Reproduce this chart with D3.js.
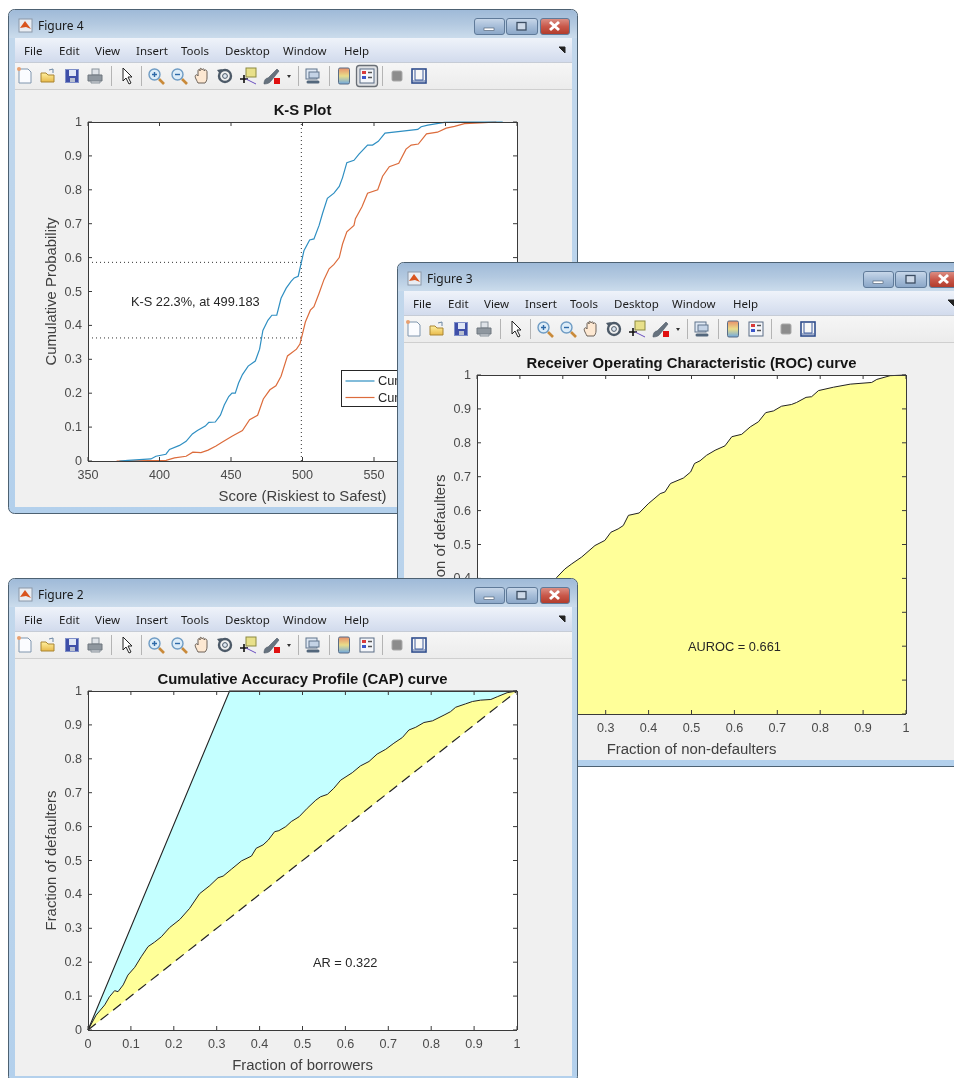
<!DOCTYPE html>
<html>
<head>
<meta charset="utf-8">
<script src="https://cdn.jsdelivr.net/npm/d3@7"></script>
<style>
html,body{margin:0;background:#fff;overflow:hidden}
svg{display:block;filter:blur(.4px)}
text{font-family:"Liberation Sans",Arial,sans-serif}
.chrome text{font-family:"Noto Sans","Open Sans",sans-serif}
</style>
</head>
<body>
<div id="chart"></div>
<script>
// values
const unitTicks=[0,.1,.2,.3,.4,.5,.6,.7,.8,.9,1];
const scoreTicks=[350,400,450,500,550,600,650];
const menuNames=["File","Edit","View","Insert","Tools","Desktop","Window","Help"];

const ksCut=499.183, ksHigh=.586, ksLow=.363;

const badsScore=[372,378,394,397.5,404.5,407,414,418.6,423,426.5,432,434.5,439,442.6,445.3,448.4,450.7,453,455.3,458,462,467,470,472.3,475.8,478.6,482,485,488.6,492,494.2,497,499.2,501,505,508,511.6,514,517.4,522,525.7,528,531,536,539.5,545.5,549,553,557.7,570,580.6,583,587.6,599.3,610,640];
const badsCum=[0,.002,.006,.014,.02,.034,.046,.058,.08,.09,.103,.114,.115,.135,.165,.19,.2,.2,.23,.255,.28,.295,.33,.385,.415,.43,.43,.48,.51,.53,.54,.545,.586,.62,.652,.655,.695,.73,.775,.79,.81,.836,.88,.887,.905,.932,.932,.943,.967,.973,.978,.986,.991,.999,1,1];

const goodsScore=[370,404.6,410.5,418.6,423.3,429,434,439.5,444,451,458,463,468.6,472.6,477.2,481.4,485,489.5,495.8,498.2,500,502,505.5,508,511.6,515,518.6,522,525.7,528,531,536,537,541.6,545.5,552.6,556,560.7,567.3,572.4,576,581,586.7,594.4,600.5,606.3,613.3,627.3,635.5];
const goodsCum=[0,.002,.009,.014,.026,.025,.032,.044,.056,.074,.09,.122,.135,.183,.21,.222,.25,.31,.33,.345,.375,.41,.445,.455,.495,.535,.567,.58,.6,.64,.676,.695,.715,.75,.79,.8,.84,.868,.878,.92,.932,.935,.965,.97,.982,.987,.995,.998,1];

// the part of the ROC curve under Figure 2 cannot be read, only its start at the origin
const rocX=[0,.186,.205,.221,.244,.275,.298,.312,.329,.341,.353,.378,.399,.427,.438,.451,.481,.498,.507,.52,.535,.555,.578,.594,.617,.637,.656,.673,.691,.71,.733,.745,.767,.78,.796,.831,.87,.92,.932,.963,1];
const rocY=[0,.403,.428,.443,.463,.497,.512,.536,.546,.556,.586,.593,.62,.65,.655,.68,.696,.714,.739,.747,.763,.778,.791,.818,.825,.847,.862,.889,.894,.908,.913,.919,.934,.936,.954,.964,.973,.978,.987,.998,1];

const capX=[0,.019,.039,.05,.062,.07,.082,.093,.109,.124,.14,.155,.171,.19,.214,.237,.26,.284,.303,.315,.334,.358,.381,.392,.408,.42,.435,.445,.461,.474,.492,.511,.531,.542,.558,.573,.589,.616,.635,.655,.674,.694,.713,.733,.748,.764,.783,.803,.83,.845,.857,.88,.896,.915,.939,.954,.977,1];
const capY=[0,.044,.074,.098,.116,.113,.133,.162,.185,.216,.246,.259,.275,.302,.326,.359,.402,.426,.449,.454,.474,.499,.513,.536,.546,.56,.585,.588,.6,.615,.629,.654,.678,.688,.695,.713,.737,.759,.779,.792,.814,.828,.846,.863,.885,.893,.907,.912,.929,.939,.952,.962,.969,.973,.975,.983,.995,1];

const idealX=[0,.33,1];
const idealY=[0,1,1];
const diagonal=[0,1];

const W=954,H=1078;
const svg=d3.select("#chart").append("svg").attr("width",W).attr("height",H);
const defs=svg.append("defs");

function grad(id,stops,horizontal){
  const g=defs.append("linearGradient").attr("id",id)
    .attr("x1",0).attr("y1",0).attr("x2",horizontal?1:0).attr("y2",horizontal?0:1);
  stops.forEach((c,i)=>g.append("stop").attr("offset",i/(stops.length-1)).attr("stop-color",c));
}
grad("titlebar",["#9fbad8","#b3c9e0","#cbdcec"]);
grad("frame",["#c3d8ec","#b3d0ec"]);
grad("menubar",["#eff3fa","#d2dbed"]);
grad("toolbar",["#f6f6f6","#ececec"]);
grad("btn",["#c9d8ea","#a6bdd8","#8aa6c7"]);
grad("closeBtn",["#dc9187","#c9584a","#b03a2a"]);
grad("folder",["#fff0a0","#e8b94a"]);
grad("colorbar",["#e88f6a","#e9dd8a","#6fa8e0"]);

// toolbar glyphs, centred on (0,0)
const icons={
  doc(g){
    g.append("path").attr("d","M-6,-7H3L6,-4V7H-6Z").attr("fill","#fbfcff").attr("stroke","#7f95ad");
    g.append("circle").attr("cx",-6).attr("cy",-7).attr("r",2).attr("fill","#e8a070");
  },
  open(g){
    g.append("path").attr("d","M-7,-3H-2L0,-1H6V6H-7Z").attr("fill","url(#folder)").attr("stroke","#a98532");
    g.append("path").attr("d","M1,-6L5,-7V-3").attr("fill","none").attr("stroke","#6b86a3");
  },
  save(g){
    g.append("rect").attr("x",-6.5).attr("y",-6.5).attr("width",13).attr("height",13).attr("fill","#3f4fa8").attr("stroke","#7f8fc8");
    g.append("rect").attr("x",-3).attr("y",-6).attr("width",7).attr("height",6).attr("fill","#dfe6f6");
    g.append("rect").attr("x",-2).attr("y",2).attr("width",5).attr("height",4).attr("fill","#b9c0d0");
  },
  print(g){
    g.append("rect").attr("x",-3).attr("y",-7).attr("width",7).attr("height",6).attr("fill","#dfe3e8").attr("stroke","#8a939c");
    g.append("path").attr("d","M-7,-1H7V5H-7Z").attr("fill","#8f979f").attr("stroke","#6e767e");
    g.append("path").attr("d","M-4,5H5V7H-4Z").attr("fill","#d6d9dd").attr("stroke","#8a939c");
  },
  arrow(g){
    g.append("path").attr("d","M-4,-8V5L-1,2L2,8L4,7L1,1H5Z").attr("fill","#fff").attr("stroke","#222");
  },
  zoomIn(g){magnifier(g,true)},
  zoomOut(g){magnifier(g,false)},
  hand(g){
    g.append("path").attr("d","M-4,7C-6,3-8,0-6,-1C-5,-2-4,0-4,0V-5C-4,-7-2,-7-2,-5V-7C-2,-8 0,-8 0,-6V-6C1,-8 3,-7 2,-5C3,-7 5,-6 5,-4V2C5,4 4,6 3,7Z")
      .attr("fill","#fde8d2").attr("stroke","#5b5148").attr("stroke-width",.9);
  },
  rotate(g){
    g.append("circle").attr("r",6).attr("fill","none").attr("stroke","#4d5a68").attr("stroke-width",2.4);
    g.append("circle").attr("r",2.4).attr("fill","#dfe8f2").attr("stroke","#4d5a68");
    g.append("path").attr("d","M-8,-6L-3,-7L-5,-2Z").attr("fill","#4d5a68");
  },
  cursor(g){
    g.append("rect").attr("x",-2).attr("y",-8).attr("width",10).attr("height",9).attr("fill","#e8e08a").attr("stroke","#8c8a40");
    g.append("path").attr("d","M-8,3H0M-4,-1V7").attr("stroke","#111").attr("stroke-width",1.6);
    g.append("path").attr("d","M-2,3L8,8").attr("stroke","#6a4fc0");
  },
  brush(g){
    g.append("path").attr("d","M-8,8C-8,4-6,2-4,2L5,-7L7,-5L-1,5C-2,7-5,8-8,8Z").attr("fill","#66727e").attr("stroke","#4d5966").attr("stroke-width",.6);
    g.append("rect").attr("x",2).attr("y",2).attr("width",6).attr("height",6).attr("fill","#e01010");
  },
  drop(g){
    g.append("path").attr("d","M-2,-1H2L0,2Z").attr("fill","#333");
  },
  link(g){
    g.append("rect").attr("x",-6).attr("y",-7).attr("width",11).attr("height",10).attr("fill","#dfe8f4").attr("stroke","#60758c");
    g.append("rect").attr("x",-3).attr("y",-4).attr("width",10).attr("height",6).attr("fill","#c4d3e6").attr("stroke","#60758c");
    g.append("path").attr("d","M-4,6H6").attr("stroke","#53677c").attr("stroke-width",3).attr("stroke-linecap","round");
  },
  colorbar(g){
    g.append("rect").attr("x",-5.5).attr("y",-8).attr("width",11).attr("height",16).attr("rx",1.5).attr("fill","url(#colorbar)").attr("stroke","#5a6d85");
  },
  legend(g){
    g.append("rect").attr("x",-7).attr("y",-7).attr("width",14).attr("height",14).attr("fill","#f4f6fa").attr("stroke","#5a6d85");
    g.append("rect").attr("x",-5).attr("y",-5).attr("width",4).attr("height",3).attr("fill","#d83a3a");
    g.append("rect").attr("x",-5).attr("y",0).attr("width",4).attr("height",3).attr("fill","#3a55c8");
    g.append("path").attr("d","M1,-3.5H5M1,1.5H5").attr("stroke","#555").attr("stroke-width",1.4);
  },
  square(g){
    g.append("rect").attr("x",-5).attr("y",-5).attr("width",10).attr("height",10).attr("rx",1.5).attr("fill","#8c8c8c").attr("stroke","#aaa");
  },
  panel(g){
    g.append("rect").attr("x",-7).attr("y",-7).attr("width",14).attr("height",14).attr("fill","#f7f7f7").attr("stroke","#2f4d8c").attr("stroke-width",1.6);
    g.append("path").attr("d","M-4,-6V4H4V-6M-6,5H6").attr("fill","none").attr("stroke","#3f5d9c");
  }
};
function magnifier(g,plus){
  g.append("path").attr("d","M3,3L8,8").attr("stroke","#c98a3a").attr("stroke-width",2.6);
  g.append("circle").attr("cx",-1.5).attr("cy",-1.5).attr("r",5.5).attr("fill","#dcecf8").attr("stroke","#6f9cc4").attr("stroke-width",1.4);
  g.append("path").attr("d",plus?"M-4,-1.5H1M-1.5,-4V1":"M-4,-1.5H1").attr("stroke","#2e6aa8").attr("stroke-width",1.4);
}
const toolbarItems=[["doc",25],["open",48],["save",72],["print",95],["sep",111],["arrow",127],["sep",141],["zoomIn",156],["zoomOut",179],["hand",202],["rotate",225],["cursor",248],["brush",272],["drop",289],["sep",298],["link",312],["sep",329],["colorbar",344],["legend",367],["sep",382],["square",397],["panel",419]];
const menuStarts=[24,59,95,136,181,225,283,344];

// draws one MATLAB figure window; coordinates inside are those of the Figure 4 window
function figureWindow(dx,dy,name,legendOn){
  const win=svg.append("g").attr("transform",`translate(${dx},${dy})`);
  const chrome=win.append("g").attr("class","chrome");
  chrome.append("rect").attr("x",8.5).attr("y",9.5).attr("width",569).attr("height",504).attr("rx",6)
    .attr("fill","url(#frame)").attr("stroke","#4d6172");
  chrome.append("path").attr("d","M9,38V15.5A6,6 0 0 1 15,10H571A6,6 0 0 1 577,15.5V38Z").attr("fill","url(#titlebar)");
  chrome.append("rect").attr("x",15).attr("y",38).attr("width",557).attr("height",469).attr("fill","#f0f0f0");
  chrome.append("rect").attr("x",15).attr("y",38).attr("width",557).attr("height",24).attr("fill","url(#menubar)");
  chrome.append("rect").attr("x",15).attr("y",62).attr("width",557).attr("height",27).attr("fill","url(#toolbar)");
  chrome.append("path").attr("d","M15,62.5H572").attr("stroke","#c6ccd6");
  chrome.append("path").attr("d","M15,89.5H572").attr("stroke","#cfcfcf");

  // title bar
  chrome.append("rect").attr("x",19).attr("y",19).attr("width",13).attr("height",13).attr("fill","#e9edf3").attr("stroke","#8b98a8");
  chrome.append("path").attr("d","M20,28L25,21L31,29L26,27Z").attr("fill","#d9541e");
  chrome.append("text").attr("x",38).attr("y",30).attr("font-size",12).attr("fill","#1a1a1a").text(name);
  [[474,30,"btn"],[506,31,"btn"],[540,29,"closeBtn"]].forEach(b=>{
    chrome.append("rect").attr("x",b[0]+.5).attr("y",18.5).attr("width",b[1]).attr("height",16).attr("rx",2.5)
      .attr("fill",`url(#${b[2]})`).attr("stroke","#5f7a99");
  });
  chrome.append("rect").attr("x",484).attr("y",28).attr("width",10).attr("height",2.5).attr("fill","#fff").attr("stroke","#44566c").attr("stroke-width",.6);
  chrome.append("rect").attr("x",517).attr("y",22.5).attr("width",9).attr("height",7.5).attr("fill","#cdd9e8").attr("stroke","#3c4e63").attr("stroke-width",1.3);
  chrome.append("path").attr("d","M550,22L559,30M559,22L550,30").attr("stroke","#fff").attr("stroke-width",3);

  // menu bar
  chrome.selectAll(".menu").data(menuNames).join("text").attr("class","menu")
    .attr("x",(d,i)=>menuStarts[i]).attr("y",54.5)
    .attr("font-size",11.5).attr("fill","#1c1c1c").text(d=>d);
  chrome.append("path").attr("d","M559,47L565,47L565,53Z M559,47L565,53").attr("fill","#222").attr("stroke","#222");

  // tool bar
  if(legendOn){
    chrome.append("rect").attr("x",356.5).attr("y",65.5).attr("width",21).attr("height",21).attr("rx",3)
      .attr("fill","#dfe1e4").attr("stroke","#6a6f76").attr("stroke-width",1.3);
  }
  toolbarItems.forEach(([kind,x])=>{
    if(kind==="sep"){
      chrome.append("path").attr("d",`M${x+.5},66V86`).attr("stroke","#b4b4b4");
    }else{
      icons[kind](chrome.append("g").attr("transform",`translate(${x},76)`));
    }
  });

  return win.append("g").attr("class","plot");
}

// plot box shared by the three figures
const box={left:88,right:517,top:122,bottom:461};
const yUnit=d3.scaleLinear().domain([0,1]).range([box.bottom,box.top]);

function drawAxes(g,x,xTicks,title,xLabel,yLabel){
  const style=a=>{
    a.selectAll("path,line").attr("stroke","#3a3a3a");
    a.selectAll("text").attr("font-size",12.6).attr("fill","#4a4a4a").attr("font-family","Liberation Sans,Arial,sans-serif");
  };
  g.append("g").attr("transform",`translate(-.5,${box.bottom})`)
    .call(d3.axisBottom(x).tickValues(xTicks).tickSize(-4).tickSizeOuter(0).tickPadding(9.5).tickFormat(String)).call(style);
  g.append("g").attr("transform",`translate(-.5,${box.top})`)
    .call(d3.axisTop(x).tickValues(xTicks).tickSize(-4).tickSizeOuter(0).tickFormat("")).call(style);
  g.append("g").attr("transform",`translate(${box.left},-.5)`)
    .call(d3.axisLeft(yUnit).tickValues(unitTicks).tickSize(-4).tickSizeOuter(0).tickPadding(6).tickFormat(String)).call(style);
  g.append("g").attr("transform",`translate(${box.right},-.5)`)
    .call(d3.axisRight(yUnit).tickValues(unitTicks).tickSize(-4).tickSizeOuter(0).tickFormat("")).call(style);

  const mid=(box.left+box.right)/2;
  g.append("text").attr("x",mid).attr("y",115).attr("text-anchor","middle")
    .attr("font-size",14.85).attr("font-weight",700).attr("fill","#141414").text(title);
  g.append("text").attr("x",mid).attr("y",500.5).attr("text-anchor","middle")
    .attr("font-size",14.9).attr("fill","#404040").text(xLabel);
  g.append("text").attr("transform",`translate(56,${(box.top+box.bottom)/2}) rotate(-90)`)
    .attr("text-anchor","middle").attr("font-size",14.9).attr("fill","#404040").text(yLabel);
}
function note(g,x,y,label){
  g.append("text").attr("x",x).attr("y",y).attr("dy",".35em")
    .attr("font-size",12.8).attr("fill","#262626").text(label);
}
const plotBg=g=>g.append("rect").attr("x",box.left).attr("y",box.top)
  .attr("width",box.right-box.left).attr("height",box.bottom-box.top).attr("fill","#fff");

// Figure 4: K-S plot
(function(){
  const g=figureWindow(0,0,"Figure 4",true);
  const x=d3.scaleLinear().domain([350,650]).range([box.left,box.right]);
  plotBg(g);
  const line=d3.line().x(d=>x(d[0])).y(d=>yUnit(d[1]));
  const dotted=pts=>g.append("path").attr("d",line(pts)).attr("fill","none")
    .attr("stroke","#333").attr("stroke-width",1).attr("stroke-dasharray","1 3");
  dotted([[ksCut,0],[ksCut,1]]);
  dotted([[350,ksHigh],[ksCut,ksHigh]]);
  dotted([[350,ksLow],[ksCut,ksLow]]);
  g.append("path").attr("d",line(d3.zip(goodsScore,goodsCum))).attr("fill","none").attr("stroke","#dc6c3c").attr("stroke-width",1.2);
  g.append("path").attr("d",line(d3.zip(badsScore,badsCum))).attr("fill","none").attr("stroke","#2f8fc2").attr("stroke-width",1.2);
  drawAxes(g,x,scoreTicks,"K-S Plot","Score (Riskiest to Safest)","Cumulative Probability");
  note(g,x(380),yUnit(.469),"K-S 22.3%, at 499.183");

  // legend, mostly hidden behind Figure 3
  const lg=g.append("g").attr("transform","translate(341.5,370.5)");
  lg.append("rect").attr("width",130).attr("height",36).attr("fill","#fff").attr("stroke","#262626");
  [["Cumulative Bads","#2f8fc2",10.5],["Cumulative Goods","#dc6c3c",27]].forEach(d=>{
    lg.append("path").attr("d",`M4,${d[2]}H33`).attr("stroke",d[1]).attr("stroke-width",1.2);
    lg.append("text").attr("x",36.5).attr("y",d[2]).attr("dy",".35em").attr("font-size",12.8).attr("fill","#262626").text(d[0]);
  });
})();

// Figure 3: ROC curve
(function(){
  const g=figureWindow(389,253,"Figure 3",false);
  const x=d3.scaleLinear().domain([0,1]).range([box.left,box.right]);
  plotBg(g);
  const pts=d3.zip(rocX,rocY);
  g.append("path").attr("d",d3.area().x(d=>x(d[0])).y0(yUnit(0)).y1(d=>yUnit(d[1]))(pts)).attr("fill","#ffff99");
  g.append("path").attr("d",d3.line().x(d=>x(d[0])).y(d=>yUnit(d[1]))(pts)).attr("fill","none").attr("stroke","#222").attr("stroke-width",1);
  drawAxes(g,x,unitTicks,"Receiver Operating Characteristic (ROC) curve","Fraction of non-defaulters","Fraction of defaulters");
  note(g,x(.492),yUnit(.198),"AUROC = 0.661");
})();

// Figure 2: CAP curve
(function(){
  const g=figureWindow(0,569,"Figure 2",false);
  const x=d3.scaleLinear().domain([0,1]).range([box.left,box.right]);
  plotBg(g);
  const model=d3.zip(capX,capY);
  const line=d3.line().x(d=>x(d[0])).y(d=>yUnit(d[1]));
  const ideal=d3.zip(idealX,idealY);
  g.append("path").attr("d",line(ideal.concat(model.slice().reverse()))+"Z").attr("fill","#c4ffff");
  g.append("path").attr("d",line(model)+"Z").attr("fill","#ffff99");
  g.append("path").attr("d",line(ideal)).attr("fill","none").attr("stroke","#222").attr("stroke-width",1.1);
  g.append("path").attr("d",line(model)).attr("fill","none").attr("stroke","#222").attr("stroke-width",1);
  g.append("path").attr("d",line(d3.zip(diagonal,diagonal))).attr("fill","none").attr("stroke","#222").attr("stroke-width",1.2).attr("stroke-dasharray","10 6");
  drawAxes(g,x,unitTicks,"Cumulative Accuracy Profile (CAP) curve","Fraction of borrowers","Fraction of defaulters");
  note(g,x(.5245),yUnit(.198),"AR = 0.322");
})();
</script>
</body>
</html>
